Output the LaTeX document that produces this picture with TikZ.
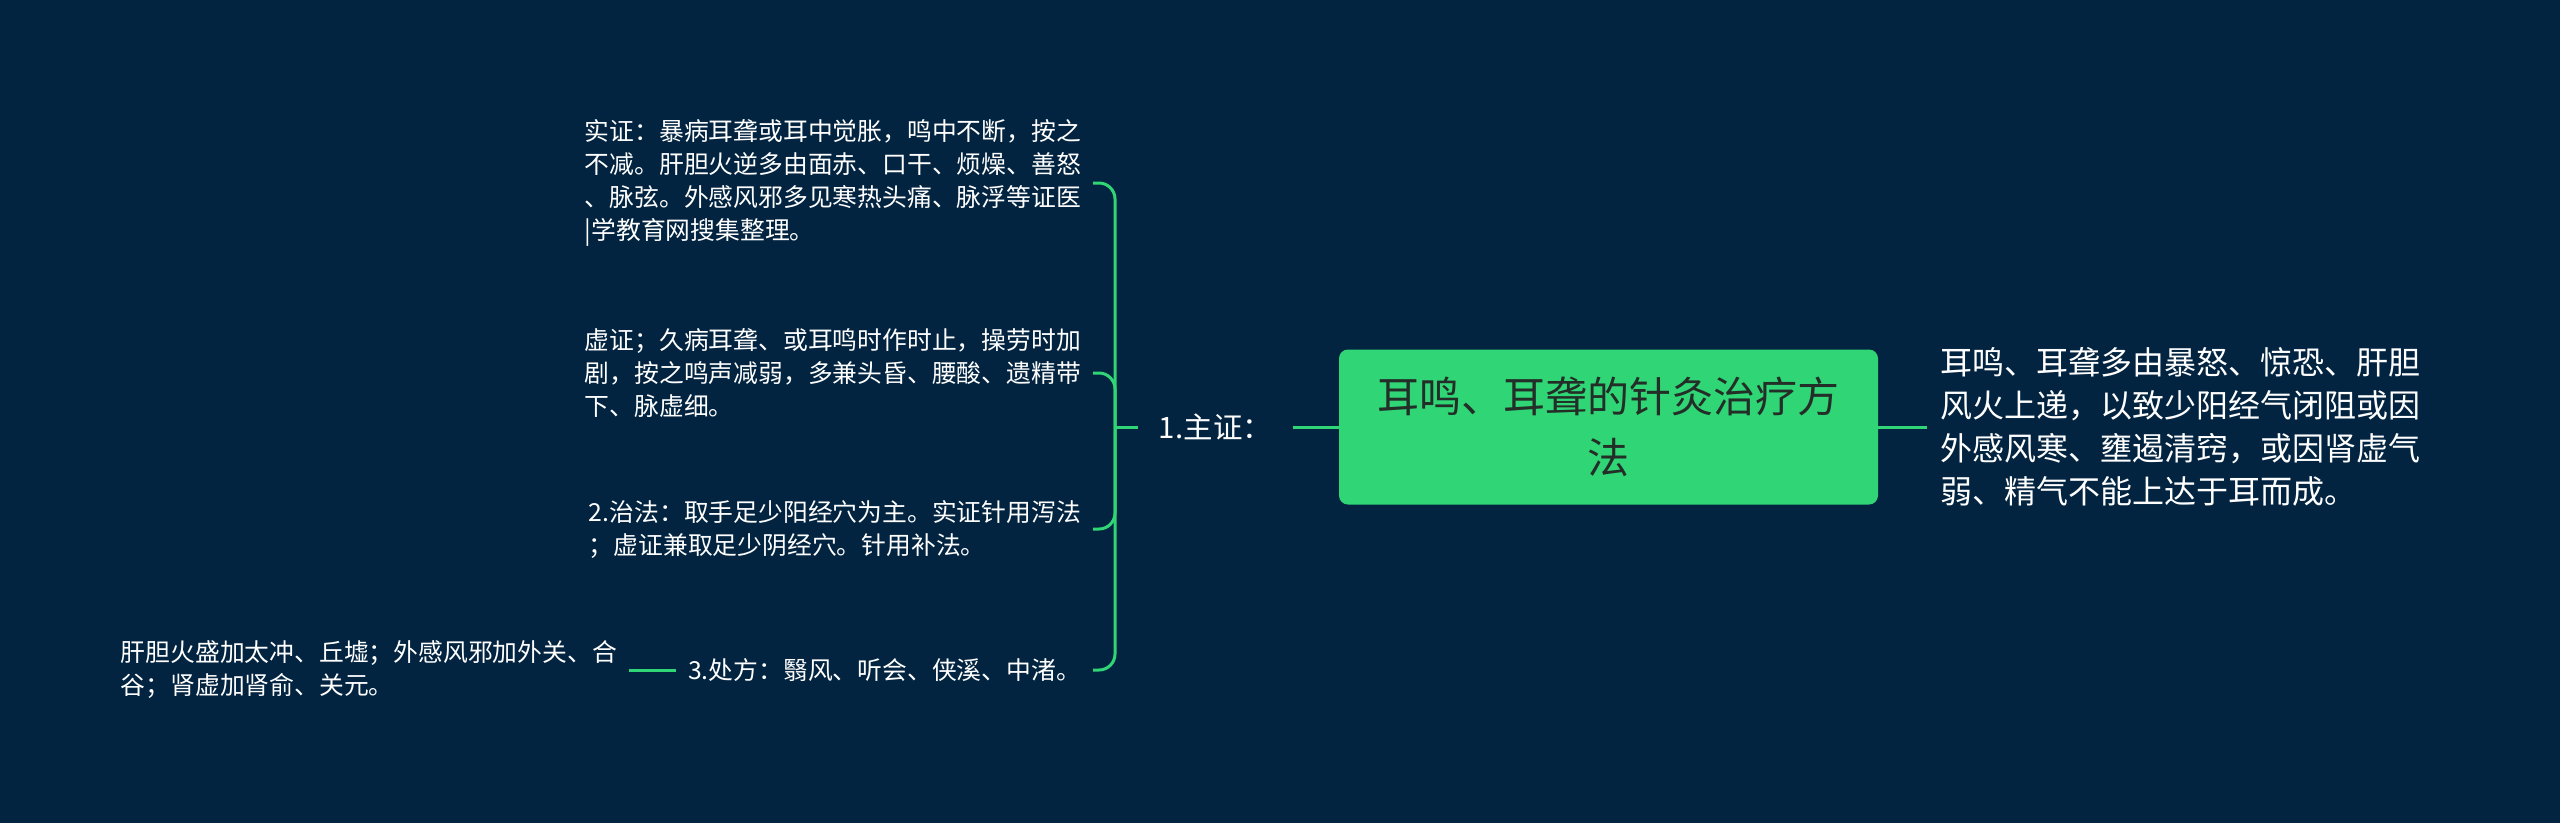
\documentclass[tikz,border=0pt]{standalone}
\usepackage{fontspec}
\setmainfont{Noto Sans CJK SC}
\definecolor{bg}{RGB}{2,36,64}
\definecolor{mmgreen}{RGB}{48,214,117}
\definecolor{titletext}{RGB}{36,46,40}
\begin{document}
\begin{tikzpicture}[x=1pt,y=-1pt,
  conn/.style={draw=mmgreen,line width=3pt},
  leaf/.style={text=white,align=left,inner xsep=12pt,inner ysep=0pt,font=\fontsize{24.8pt}{33pt}\selectfont},
  rootbox/.style={fill=mmgreen,rounded corners=9pt,text=titletext,align=center,minimum width=539pt,minimum height=155pt,inner sep=0pt,font=\fontsize{42pt}{61pt}\selectfont},
  desc/.style={text=white,align=left,inner xsep=13pt,inner ysep=0pt,font=\fontsize{32pt}{43pt}\selectfont},
  lvl/.style={text=white,minimum width=155pt,inner sep=0pt,font=\fontsize{29.5pt}{36pt}\selectfont}]
\fill[bg] (0,0) rectangle (2560,823);
\useasboundingbox (0,0) rectangle (2560,823);

\node[rootbox] (root) at (1608.5,427) {耳鸣、耳聋的针灸治疗方\\法};
\node[desc,anchor=west] (desc) at (1927,427) {耳鸣、耳聋多由暴怒、惊恐、肝胆\\风火上递，以致少阳经气闭阻或因\\外感风寒、壅遏清窍，或因肾虚气\\弱、精气不能上达于耳而成。};
\node[lvl] (l1) at (1215.5,427) {1.主证：};
\coordinate (hub) at (1115,427);

\node[leaf,anchor=east] (c1) at (1093,183) {实证：暴病耳聋或耳中觉胀，鸣中不断，按之\\不减。肝胆火逆多由面赤、口干、烦燥、善怒\\、脉弦。外感风邪多见寒热头痛、脉浮等证医\\|学教育网搜集整理。};
\node[leaf,anchor=east] (c2) at (1093,373) {虚证；久病耳聋、或耳鸣时作时止，操劳时加\\剧，按之鸣声减弱，多兼头昏、腰酸、遗精带\\下、脉虚细。};
\node[leaf,anchor=east] (c3) at (1093,529) {2.治法：取手足少阳经穴为主。实证针用泻法\\；虚证兼取足少阴经穴。针用补法。};
\node[leaf,anchor=east] (c4) at (1093,670) {3.处方：翳风、听会、侠溪、中渚。};
\node[leaf,anchor=east] (c5) at (629,670) {肝胆火盛加太冲、丘墟；外感风邪加外关、合\\谷；肾虚加肾俞、关元。};

\draw[conn] (root.east) -- (desc.west);
\draw[conn] (root.west) -- (l1.east);
\draw[conn] (l1.west) -- (hub);
\foreach \c in {c1,c2,c3,c4}{
  \draw[conn,rounded corners=16pt] (hub) |- (\c.east);
}
\draw[conn] (c4.west) -- (c5.east);
\end{tikzpicture}
\end{document}
